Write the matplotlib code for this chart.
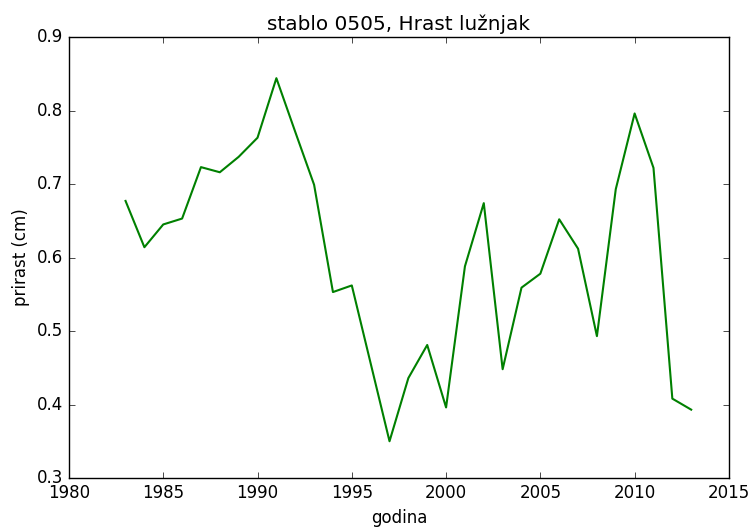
import matplotlib
matplotlib.use('Agg')
import matplotlib.pyplot as plt

godina = list(range(1983, 2014))
prirast = [0.677, 0.614, 0.645, 0.653, 0.723, 0.716, 0.737, 0.763, 0.844, 0.771,
           0.699, 0.553, 0.562, 0.456, 0.350, 0.436, 0.481, 0.396, 0.588, 0.674,
           0.448, 0.559, 0.578, 0.652, 0.612, 0.493, 0.693, 0.796, 0.722, 0.408,
           0.393]

plt.style.use('classic')
plt.rcParams['axes.formatter.useoffset'] = False
fig = plt.figure(figsize=(7.53, 5.29), dpi=100, facecolor='white')
ax = fig.add_axes([0.0916, 0.0964, 0.8764, 0.8336])
ax.plot(godina, prirast, 'g-', linewidth=1.5)
ax.set_xlim(1980, 2015)
ax.set_ylim(0.3, 0.9)
ax.set_xlabel('godina')
ax.set_ylabel('prirast (cm)')
ax.set_title('stablo 0505, Hrast lužnjak')
fig.savefig('out.png', dpi=100, facecolor='white')
